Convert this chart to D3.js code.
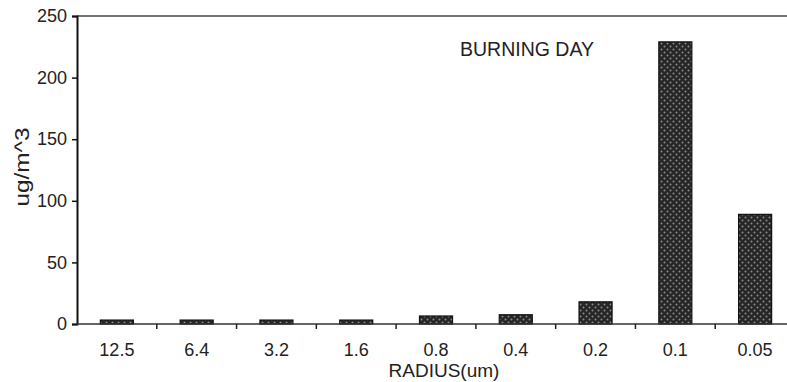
<!DOCTYPE html>
<html>
<head>
<meta charset="utf-8">
<script src="https://cdn.jsdelivr.net/npm/d3@7"></script>
<style>
  body { margin: 0; background: #fff; }
  svg { display: block; font-family: "Liberation Sans", Arial, sans-serif; }
</style>
</head>
<body>
<div id="chart"></div>
<script>
// data
var radius = ["12.5", "6.4", "3.2", "1.6", "0.8", "0.4", "0.2", "0.1", "0.05"];
var conc = [3.2, 3.2, 3.2, 3.2, 6.5, 7.5, 18, 229, 89];
var yTicks = [0, 50, 100, 150, 200, 250];

var W = 787, H = 382;
var plotL = 77, plotR = 795, plotT = 16, plotB = 324;

var svg = d3.select("#chart").append("svg")
    .attr("width", W)
    .attr("height", H);

// dotted crosshatch fill for bars
var defs = svg.append("defs");
var pat = defs.append("pattern")
    .attr("id", "hatch")
    .attr("patternUnits", "userSpaceOnUse")
    .attr("width", 6)
    .attr("height", 6);
pat.append("rect").attr("width", 6).attr("height", 6).attr("fill", "#262626");
pat.append("circle").attr("cx", 1.5).attr("cy", 1.5).attr("r", 1).attr("fill", "#8c8c8c");
pat.append("circle").attr("cx", 4.5).attr("cy", 4.5).attr("r", 1).attr("fill", "#8c8c8c");

var x = d3.scaleBand()
    .domain(radius)
    .range([plotL, plotR])
    .paddingInner(0.586)
    .paddingOuter(0.293);

var y = d3.scaleLinear()
    .domain([0, 250])
    .range([plotB, plotT]);

// top frame line
svg.append("line")
    .attr("x1", plotL).attr("x2", W)
    .attr("y1", y(250)).attr("y2", y(250))
    .attr("stroke", "#444").attr("stroke-width", 1.5);

// bars
svg.selectAll(".bar")
    .data(radius)
  .enter().append("rect")
    .attr("class", "bar")
    .attr("x", function(d) { return x(d); })
    .attr("width", x.bandwidth())
    .attr("y", function(d, i) { return y(conc[i]); })
    .attr("height", function(d, i) { return plotB - y(conc[i]); })
    .attr("fill", "url(#hatch)")
    .attr("stroke", "#111")
    .attr("stroke-width", 1.2);

// y axis
var yAxis = svg.append("g")
    .attr("transform", "translate(" + plotL + ",0)")
    .call(d3.axisLeft(y).tickValues(yTicks).tickSize(5).tickPadding(5));
yAxis.select(".domain").attr("stroke", "#111").attr("stroke-width", 2);
yAxis.selectAll(".tick line").attr("stroke", "#111").attr("stroke-width", 1.5);
yAxis.selectAll(".tick text")
    .attr("font-size", "18px")
    .attr("fill", "#222")
    .attr("font-family", "Liberation Sans, Arial, sans-serif");

// x axis: ticks at band boundaries
var bounds = radius.map(function(d) { return x(d) - x.step() * x.paddingInner() / 2; });
svg.append("line")
    .attr("x1", plotL).attr("x2", W)
    .attr("y1", plotB).attr("y2", plotB)
    .attr("stroke", "#333").attr("stroke-width", 1.5);
svg.selectAll(".xtick")
    .data(bounds.slice(1))
  .enter().append("line")
    .attr("class", "xtick")
    .attr("x1", function(d) { return d; })
    .attr("x2", function(d) { return d; })
    .attr("y1", plotB).attr("y2", plotB + 5)
    .attr("stroke", "#222").attr("stroke-width", 1.5);
svg.selectAll(".xlab")
    .data(radius)
  .enter().append("text")
    .attr("class", "xlab")
    .attr("x", function(d) { return x(d) + x.bandwidth() / 2; })
    .attr("y", 356)
    .attr("text-anchor", "middle")
    .attr("font-size", "18px")
    .attr("fill", "#222")
    .text(function(d) { return d; });

// axis titles
svg.append("text")
    .attr("x", 444)
    .attr("y", 377)
    .attr("text-anchor", "middle")
    .attr("font-size", "19px")
    .attr("fill", "#222")
    .text("RADIUS(um)");

svg.append("text")
    .attr("transform", "translate(29," + 167 + ") rotate(-90)")
    .attr("text-anchor", "middle")
    .attr("font-size", "21px")
    .attr("textLength", 79)
    .attr("lengthAdjust", "spacingAndGlyphs")
    .attr("fill", "#222")
    .text("ug/m^3");

svg.append("text")
    .attr("x", 460)
    .attr("y", 56)
    .attr("font-size", "19.5px")
    .attr("fill", "#222")
    .text("BURNING DAY");
</script>
</body>
</html>
